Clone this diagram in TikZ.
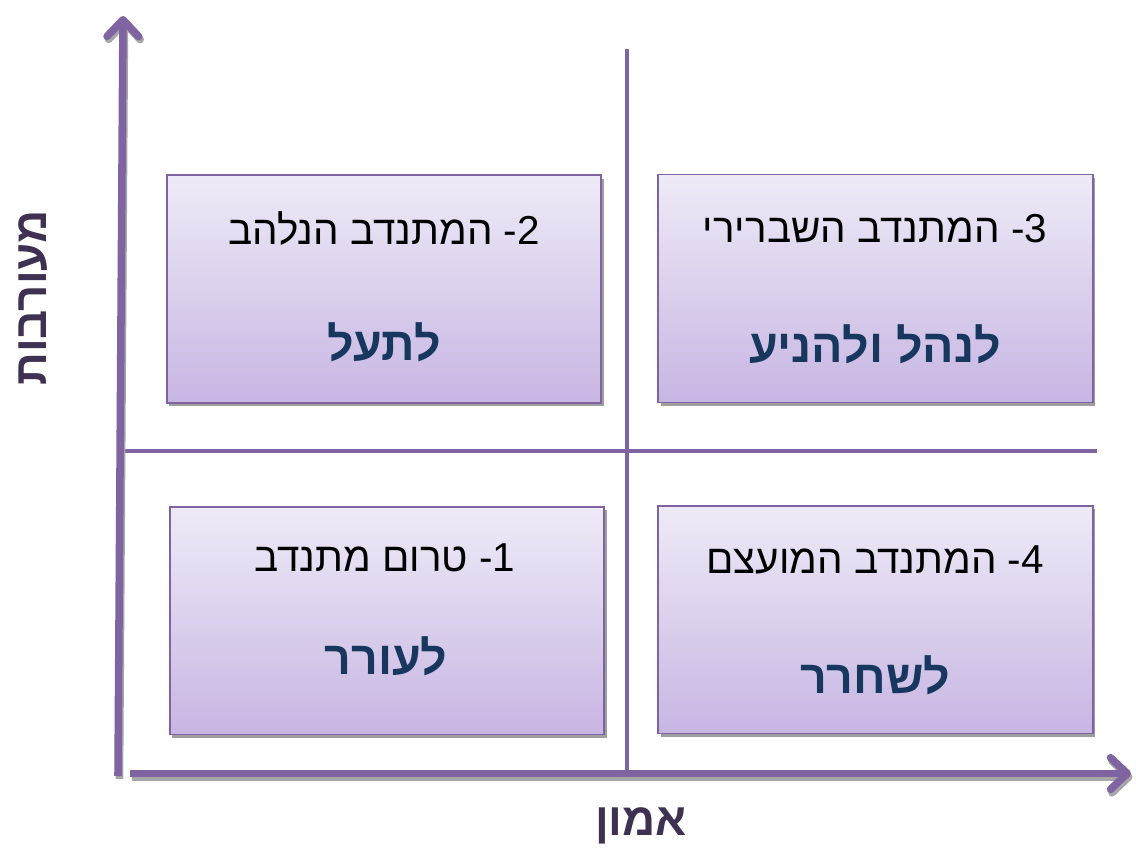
\documentclass[tikz,border=0pt]{standalone}
\usepackage{fontspec}
\newfontfamily\heb[Script=Hebrew]{Liberation Sans}
\newfontfamily\latn{Liberation Sans}
\TeXXeTstate=1
\usetikzlibrary{arrows.meta,shadows}
\definecolor{axispurple}{HTML}{8064A2}
\definecolor{axisshadow}{HTML}{A6A6A6}
\definecolor{boxtop}{HTML}{EFEAF7}
\definecolor{boxbottom}{HTML}{C7B6E3}
\definecolor{actionblue}{HTML}{17375E}
\definecolor{labelpurple}{HTML}{3F3151}
\newcommand{\quadno}[1]{{\latn -#1}}
\tikzset{
  axisline/.style={line width=4.3pt, draw=axispurple,
    -{Straight Barb[round,length=9.5pt,width=18pt]}},
  axisshade/.style={line width=4.3pt, draw=axisshadow,
    -{Straight Barb[round,length=9.5pt,width=18pt]}},
  divider/.style={line width=2.2pt, draw=axispurple},
  quadbox/.style={rectangle, draw=axispurple, line width=1.1pt,
    top color=boxtop, bottom color=boxbottom,
    minimum width=8.7cm, minimum height=4.56cm, inner sep=0pt,
    drop shadow={shadow xshift=0.05cm, shadow yshift=-0.07cm,
      fill=black!38, opacity=1}},
  heading/.style={font=\heb\fontsize{23pt}{27pt}\selectfont, text=black, inner sep=0pt},
  action/.style={font=\heb\bfseries\fontsize{26.5pt}{31pt}\selectfont, text=actionblue, inner sep=0pt},
  axislabel/.style={font=\heb\bfseries\fontsize{26pt}{30pt}\selectfont, text=labelpurple, inner sep=0pt}
}
\begin{document}
\begin{tikzpicture}[x=0.02cm,y=-0.02cm]
\path[use as bounding box] (0,0) rectangle (1136,853);

% quadrant dividers
\coordinate (vtop) at (627,49);
\coordinate (vbot) at (627,771);
\coordinate (hleft) at (122,451);
\coordinate (hright) at (1097,451);
\draw[divider] (vtop) -- (vbot);
\draw[divider] (hleft) -- (hright);

% the four quadrants
\node[quadbox] (q2) at (384,289) {};
\node[quadbox] (q3) at (875.5,288.5) {};
\node[quadbox] (q1) at (387,620.5) {};
\node[quadbox] (q4) at (875.5,619.5) {};

\node[heading] (h2) at (384,229) {\beginR המתנדב הנלהב\endR{} \quadno{2}};
\node[action]  (a2) at (384,342) {\beginR לתעל\endR};
\node[heading] (h3) at (875,229) {\beginR המתנדב השברירי\endR{} \quadno{3}};
\node[action]  (a3) at (875,344) {\beginR לנהל ולהניע\endR};
\node[heading] (h1) at (385,558) {\beginR טרום מתנדב\endR{} \quadno{1}};
\node[action]  (a1) at (386,656) {\beginR לעורר\endR};
\node[heading] (h4) at (875,560) {\beginR המתנדב המועצם\endR{} \quadno{4}};
\node[action]  (a4) at (875,675) {\beginR לשחרר\endR};

% axes with their shadows
\coordinate (yfoot) at (118,776);
\coordinate (ytip) at (123,16);
\coordinate (xfoot) at (130,773.5);
\coordinate (xtip) at (1131,773.5);
\coordinate (yfootS) at (119.5,779);
\coordinate (ytipS) at (124.5,19);
\coordinate (xfootS) at (131.5,777);
\coordinate (xtipS) at (1132.5,777);
\draw[axisshade] (yfootS) -- (ytipS);
\draw[axisshade] (xfootS) -- (xtipS);
\draw[axisline] (yfoot) -- (ytip);
\draw[axisline] (xfoot) -- (xtip);

% axis titles
\node[axislabel, rotate=90] (ylab) at (33,298) {\beginR מעורבות\endR};
\node[axislabel] (xlab) at (641,826) {\beginR אמון\endR};
\end{tikzpicture}
\end{document}
